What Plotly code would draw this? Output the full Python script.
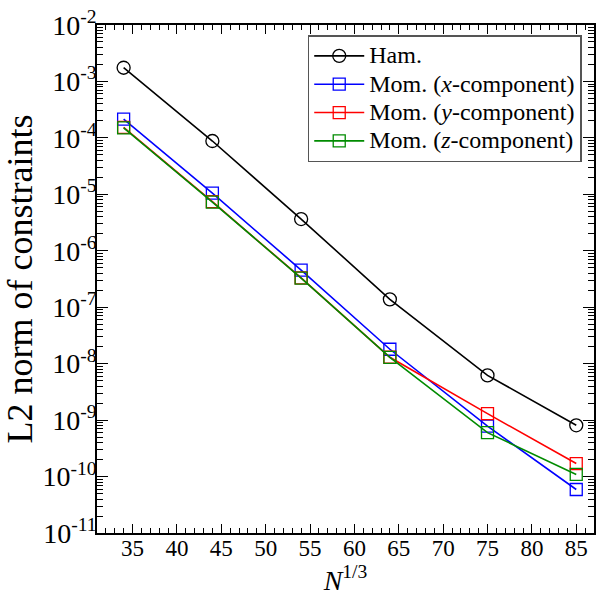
import plotly.graph_objects as go

# Cube root of the particle number
n_cbrt = [34, 44, 54, 64, 75, 85]

# L2 norms of the constraint violations
ham = [1.75e-3, 8.8e-5, 3.65e-6, 1.38e-7, 6.2e-9, 8.1e-10]
mom_x = [2.15e-4, 1.05e-5, 4.55e-7, 1.8e-8, 7.8e-10, 5.9e-11]
mom_y = [1.53e-4, 7.4e-6, 3.3e-7, 1.3e-8, 1.3e-9, 1.7e-10]
mom_z = [1.5e-4, 7.3e-6, 3.28e-7, 1.29e-8, 6.0e-10, 1.09e-10]

series_names = ["Ham.", "Mom. (<i>x</i>-component)", "Mom. (<i>y</i>-component)",
                "Mom. (<i>z</i>-component)"]

x_ticks = [35, 40, 45, 50, 55, 60, 65, 70, 75, 80, 85]
y_exponents = [-2, -3, -4, -5, -6, -7, -8, -9, -10, -11]

FONT = "Liberation Serif"

fig = go.Figure()

styles = [
    (ham, "black", "circle-open", 13),
    (mom_x, "#0000ff", "square-open", 12),
    (mom_y, "#ff0000", "square-open", 12),
    (mom_z, "#008b00", "square-open", 12),
]
for name, (vals, color, symbol, size) in zip(series_names, styles):
    fig.add_trace(go.Scatter(
        x=n_cbrt, y=vals, mode="lines+markers",
        # larger glyphs inside a compact legend row
        name=f'<span style="font-size:24px">{name}</span>',
        line=dict(color=color, width=1.6),
        marker=dict(symbol=symbol, size=size, color=color, line=dict(width=1.3, color=color)),
    ))

minor_y = [m * 10.0 ** e for e in range(-11, -2) for m in range(2, 10)]

fig.update_layout(
    width=597, height=597,
    margin=dict(l=97, r=1, t=25, b=64),
    paper_bgcolor="white", plot_bgcolor="white",
    font=dict(family=FONT, color="black"),
    showlegend=True,
    legend=dict(
        x=0.424, y=0.98, xanchor="left", yanchor="top",
        bgcolor="white", bordercolor="#555555", borderwidth=1.5,
        font=dict(size=19.5, family=FONT), tracegroupgap=0,
        itemwidth=50,
    ),
)

fig.update_xaxes(
    range=[31, 87],
    tickvals=x_ticks, ticktext=[str(v) for v in x_ticks],
    ticks="inside", ticklen=9, tickwidth=1.2, tickcolor="black",
    minor=dict(dtick=1, tick0=31, ticks="inside", ticklen=5, tickwidth=1, tickcolor="black"),
    showline=True, linecolor="black", linewidth=1.5, mirror="allticks",
    showgrid=False, zeroline=False,
    tickfont=dict(size=23, family=FONT),
    ticklabelstandoff=-6,
    title=dict(text="<i>N</i><sup>1/3</sup>", font=dict(size=28, family=FONT), standoff=4),
)

fig.update_yaxes(
    type="log", range=[-11, -2],
    tickvals=[10.0 ** e for e in y_exponents],
    ticktext=[f"10<sup>{e}</sup>" for e in y_exponents],
    ticks="inside", ticklen=11, tickwidth=1.2, tickcolor="black",
    minor=dict(tickmode="array", tickvals=minor_y, ticks="inside", ticklen=6,
               tickwidth=1, tickcolor="black"),
    showline=True, linecolor="black", linewidth=1.5, mirror="allticks",
    showgrid=False, zeroline=False,
    tickfont=dict(size=28, family=FONT),
    ticklabelstandoff=-7,
    title=dict(text="L2 norm of constraints", font=dict(size=36, family=FONT), standoff=4),
)

fig.write_html("out.html")
